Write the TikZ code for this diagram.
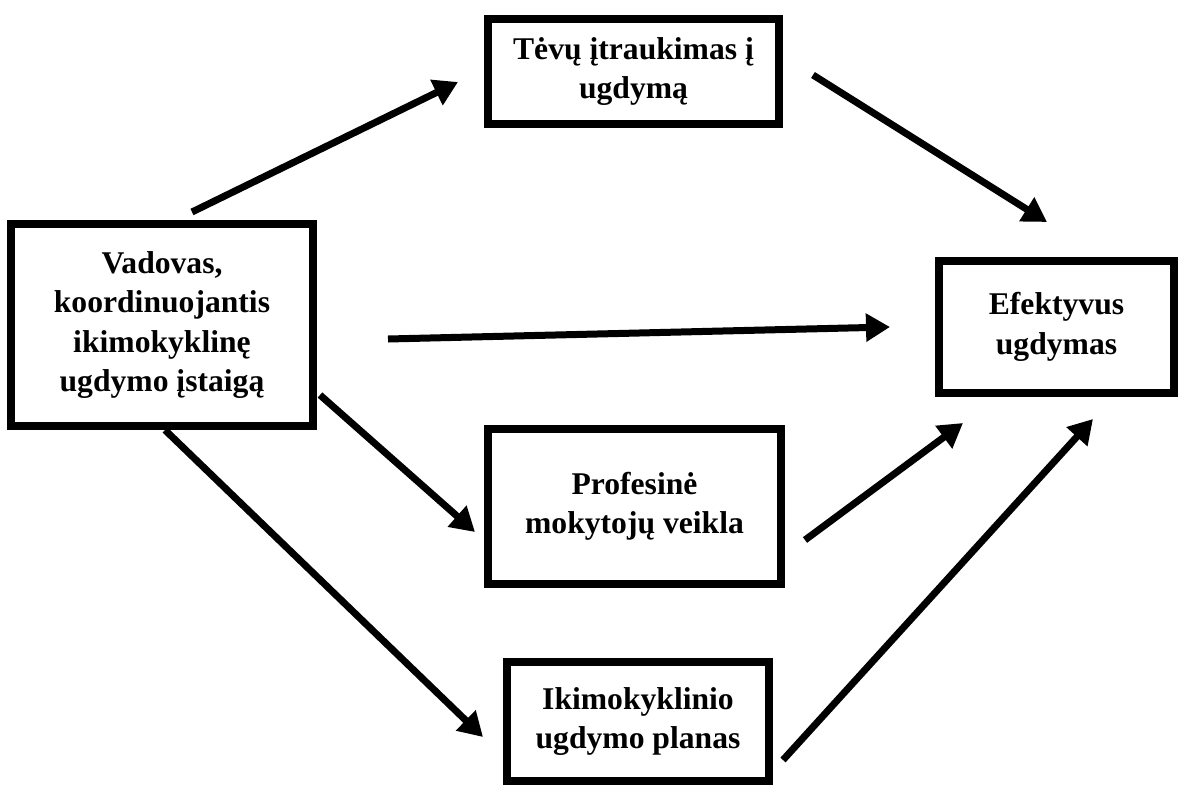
\documentclass[tikz,border=0pt]{standalone}
\usepackage{fontspec}
\setmainfont{Liberation Serif}
\usetikzlibrary{arrows.meta}

\tikzset{
    box/.style={draw, line width=0.16cm, align=center, inner sep=0pt,
        font=\bfseries\fontsize{18}{22.4}\selectfont},
    link/.style={line width=0.14cm, -{Triangle[length=0.48cm,width=0.54cm]}}
}

\begin{document}
\begin{tikzpicture}[x=0.02cm, y=-0.02cm]
    \useasboundingbox (0,0) rectangle (1184,785);
    % boxes
    \node[box, minimum width=6.04cm, minimum height=4.04cm] (vadovas)
        at (162,325) {Vadovas,\\koordinuojantis\\ikimokyklinę\\ugdymo įstaigą};
    \node[box, minimum width=5.82cm, minimum height=2.10cm] (tevai)
        at (633.5,71.5) {Tėvų įtraukimas į\\ugdymą};
    \node[box, minimum width=4.70cm, minimum height=2.64cm] (efekt)
        at (1056.5,327) {Efektyvus\\ugdymas};
    \node[box, minimum width=5.86cm, minimum height=3.10cm] (profes)
        at (634.5,506.5) {Profesinė\\mokytojų veikla};
    \node[box, minimum width=5.24cm, minimum height=2.38cm] (planas)
        at (638,721.5) {Ikimokyklinio\\ugdymo planas};
    % arrow ends
    \coordinate (vadT) at (192,212);
    \coordinate (tevL) at (458,82);
    \coordinate (tevR) at (813,75);
    \coordinate (efT) at (1047,222);
    \coordinate (vadR) at (388,339);
    \coordinate (efL) at (890,327);
    \coordinate (vadC) at (320,395);
    \coordinate (proL) at (475,532);
    \coordinate (vadB) at (165,430);
    \coordinate (plaL) at (483,737);
    \coordinate (proR) at (805,540);
    \coordinate (efB1) at (963,423);
    \coordinate (plaR) at (783,760);
    \coordinate (efB2) at (1093,419);
    % arrows
    \draw[link] (vadT) -- (tevL);
    \draw[link] (tevR) -- (efT);
    \draw[link] (vadR) -- (efL);
    \draw[link] (vadC) -- (proL);
    \draw[link] (vadB) -- (plaL);
    \draw[link] (proR) -- (efB1);
    \draw[link] (plaR) -- (efB2);
\end{tikzpicture}
\end{document}
